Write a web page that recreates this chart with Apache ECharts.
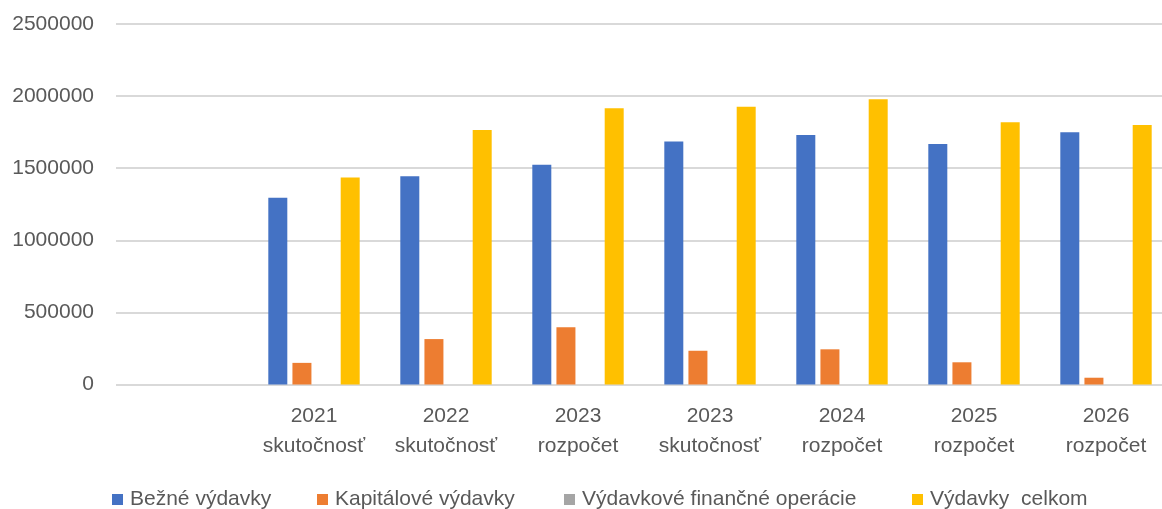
<!DOCTYPE html>
<html>
<head>
<meta charset="utf-8">
<script src="https://cdn.jsdelivr.net/npm/echarts@6/dist/echarts.min.js"></script>
<style>
html,body{margin:0;padding:0;background:#fff;overflow:hidden;width:1162px;height:509px;}
#c{width:1172px;height:509px;}
</style>
</head>
<body>
<div id="c"></div>
<script>
const categories = ['', '2021\nskutočnosť', '2022\nskutočnosť', '2023\nrozpočet', '2023\nskutočnosť', '2024\nrozpočet', '2025\nrozpočet', '2026\nrozpočet'];
const seriesNames = ['Bežné výdavky', 'Kapitálové výdavky', 'Výdavkové finančné operácie', 'Výdavky  celkom'];
const bezneVydavky = [null, 1295000, 1444000, 1524000, 1686000, 1730000, 1668000, 1749000];
const kapitaloveVydavky = [null, 150000, 315000, 397000, 234000, 244000, 154000, 47000];
const financneOperacie = [null, 0, 0, 0, 0, 0, 0, 0];
const vydavkyCelkom = [null, 1436000, 1765000, 1915000, 1927000, 1978000, 1818000, 1800000];
const yTicks = [0, 500000, 1000000, 1500000, 2000000, 2500000];

const colors = ['#4472C4', '#ED7D31', '#A5A5A5', '#FFC000'];
const font = "'Liberation Sans', Arial, sans-serif";
const textColor = '#595959';
const legendLefts = [112, 317, 564, 912];

const chart = echarts.init(document.getElementById('c'), null, {renderer: 'canvas'});
const dataSets = [bezneVydavky, kapitaloveVydavky, financneOperacie, vydavkyCelkom];

const option = {
  animation: false,
  color: colors,
  textStyle: {fontFamily: font},
  grid: {left: 116, right: 0, top: 24, bottom: 124.5, containLabel: false},
  legend: seriesNames.map((n, i) => ({
    data: [n],
    left: legendLefts[i],
    top: 489,
    padding: 0,
    icon: 'rect',
    itemWidth: 11,
    itemHeight: 11,
    textStyle: {fontFamily: font, fontSize: 21, color: textColor, padding: [0, 0, 0, 2]}
  })),
  xAxis: {
    type: 'category',
    data: categories,
    axisLine: {show: false},
    axisTick: {show: false},
    axisLabel: {fontFamily: font, fontSize: 21, color: textColor, lineHeight: 30, margin: 17, interval: 0}
  },
  yAxis: {
    type: 'value',
    min: yTicks[0],
    max: yTicks[yTicks.length - 1],
    interval: yTicks[1] - yTicks[0],
    axisLine: {show: false},
    axisTick: {show: false},
    axisLabel: {fontFamily: font, fontSize: 21, color: textColor, margin: 22, padding: [4, 0, 0, 0], formatter: v => String(v)},
    splitLine: {lineStyle: {color: '#d9d9d9', width: 2}}
  },
  series: seriesNames.map((n, i) => ({
    name: n,
    type: 'bar',
    data: dataSets[i],
    barWidth: 19,
    barGap: '27%',
    itemStyle: {color: colors[i]}
  }))
};
chart.setOption(option);
</script>
</body>
</html>
